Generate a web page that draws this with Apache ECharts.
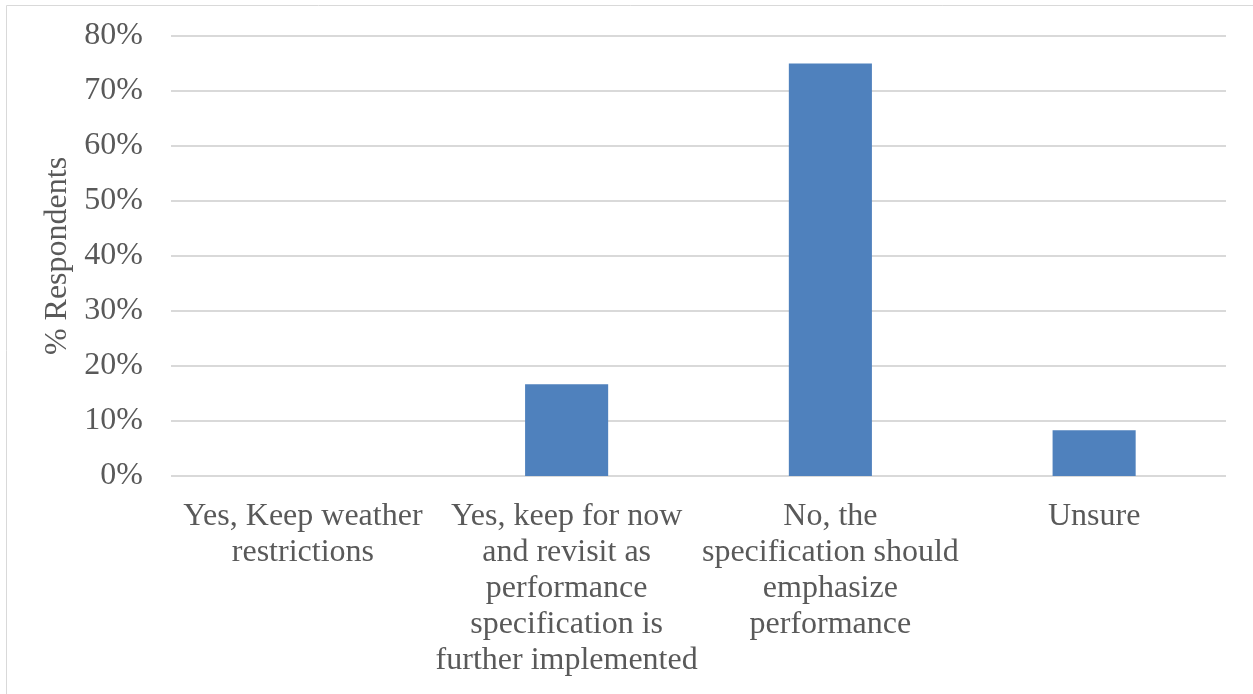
<!DOCTYPE html>
<html><head><meta charset="utf-8">
<script src="https://cdn.jsdelivr.net/npm/echarts@6/dist/echarts.min.js"></script>
<style>html,body{margin:0;padding:0;background:#fff}#c{width:1253px;height:694px}</style>
</head><body><div id="c"></div>
<script>
const categories = [
  "Yes, Keep weather\nrestrictions",
  "Yes, keep for now\nand revisit as\nperformance\nspecification is\nfurther implemented",
  "No, the\nspecification should\nemphasize\nperformance",
  "Unsure"
];
const values = [0, 16.67, 75, 8.33];
const yTicks = [0, 10, 20, 30, 40, 50, 60, 70, 80];
const yAxisName = "% Respondents";

const chart = echarts.init(document.getElementById('c'), null, {renderer: 'canvas'});
const font = '"Liberation Serif","Times New Roman",serif';
chart.setOption({
  animation: false,
  graphic: [{
    type: 'rect', silent: true,
    shape: {x: 6.5, y: 5.5, width: 1260, height: 700},
    style: {fill: 'none', stroke: '#d9d9d9', lineWidth: 1}
  }],
  grid: {left: 171, right: 27, top: 36, bottom: 218, containLabel: false},
  xAxis: {
    type: 'category', data: categories,
    axisLine: {show: false}, axisTick: {show: false},
    axisLabel: {interval: 0, color: '#595959', fontFamily: font, fontSize: 32, lineHeight: 36, margin: 23}
  },
  yAxis: {
    type: 'value', min: yTicks[0], max: yTicks[yTicks.length - 1], interval: 10,
    name: yAxisName, nameLocation: 'middle', nameGap: 89, nameRotate: 90,
    nameTextStyle: {color: '#595959', fontFamily: font, fontSize: 32},
    axisLine: {show: false}, axisTick: {show: false},
    axisLabel: {color: '#595959', fontFamily: font, fontSize: 32, margin: 28, formatter: v => v + '%'},
    splitLine: {lineStyle: {color: '#d9d9d9', width: 2}}
  },
  series: [{
    type: 'bar', data: values, barWidth: '31.5%',
    itemStyle: {color: '#4f81bd'}
  }]
});
</script></body></html>
